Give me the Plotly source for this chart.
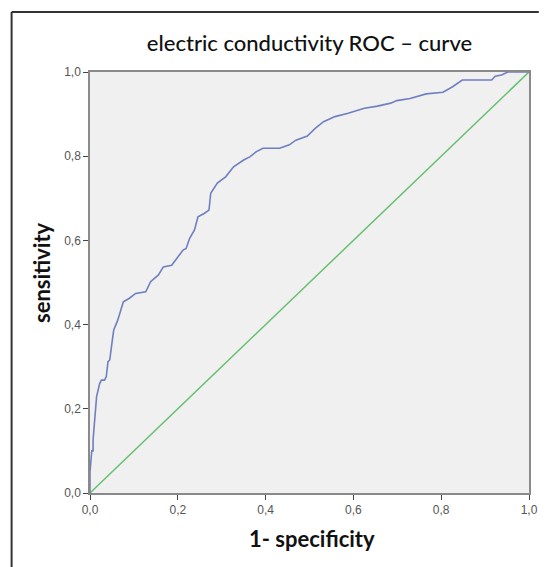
import plotly.graph_objects as go

# ROC curve (1 - specificity, sensitivity)
fpr = [0.0, 0.0, 0.004, 0.007, 0.007, 0.011, 0.015, 0.022, 0.026, 0.033, 0.037, 0.041, 0.045,
       0.050, 0.054, 0.063, 0.076, 0.089, 0.104, 0.127, 0.138, 0.156, 0.167, 0.186, 0.200,
       0.212, 0.219, 0.227, 0.238, 0.246, 0.260, 0.271, 0.275, 0.290, 0.309, 0.327, 0.350,
       0.365, 0.379, 0.394, 0.432, 0.454, 0.469, 0.495, 0.513, 0.532, 0.558, 0.588, 0.625,
       0.655, 0.685, 0.699, 0.729, 0.766, 0.804, 0.826, 0.848, 0.915, 0.923, 0.9375, 0.952, 1.0]
tpr = [0.0, 0.05, 0.10, 0.10, 0.126, 0.18, 0.229, 0.26, 0.268, 0.268, 0.276, 0.312, 0.316,
       0.356, 0.387, 0.41, 0.454, 0.462, 0.474, 0.478, 0.502, 0.518, 0.537, 0.541, 0.561,
       0.577, 0.581, 0.605, 0.625, 0.656, 0.664, 0.672, 0.712, 0.736, 0.751, 0.775, 0.791,
       0.799, 0.811, 0.819, 0.819, 0.827, 0.838, 0.848, 0.866, 0.882, 0.894, 0.902, 0.914,
       0.919, 0.926, 0.932, 0.937, 0.948, 0.952, 0.965, 0.981, 0.981, 0.990, 0.993, 1.0, 1.0]

# reference (chance) line
ref_x = [0.0, 1.0]
ref_y = [0.0, 1.0]

tick_vals = [0.0, 0.2, 0.4, 0.6, 0.8, 1.0]
tick_text = ["0,0", "0,2", "0,4", "0,6", "0,8", "1,0"]

W, H = 548, 567
L, R, T, B = 90, 10, 72, 74
pw, ph = W - L - R, H - T - B


def px_x(page_x):
    return (page_x - L) / pw


def px_y(page_y):
    return (H - B - page_y) / ph


fig = go.Figure()
fig.add_trace(go.Scatter(x=ref_x, y=ref_y, mode="lines",
                         line=dict(color="#66c06e", width=1.5), showlegend=False))
fig.add_trace(go.Scatter(x=fpr, y=tpr, mode="lines",
                         line=dict(color="#6f7fc0", width=1.6), showlegend=False))

axis_common = dict(range=[0, 1], tickvals=tick_vals, ticktext=tick_text,
                   showgrid=False, zeroline=False, showline=True, mirror=True,
                   linecolor="#8a8a8a", linewidth=1.5, ticks="outside", ticklen=5,
                   tickcolor="#444", tickwidth=1.2,
                   tickfont=dict(family="Arial, Liberation Sans", size=12, color="#555"))

frame = dict(color="#333", width=2)

fig.update_layout(
    width=W, height=H,
    margin=dict(l=L, r=R, t=T, b=B),
    paper_bgcolor="white", plot_bgcolor="#f0f0f0",
    xaxis=axis_common, yaxis=axis_common,
    title=dict(text="electric conductivity ROC – curve", x=0.5, xanchor="center",
               xref="paper", y=1 - 43 / H, yref="container", yanchor="middle",
               font=dict(family="Lato, Open Sans", size=22, color="#111", weight=500)),
    annotations=[
        dict(text="<b>sensitivity</b>", xref="paper", yref="paper",
             x=px_x(40), y=px_y(273), textangle=-90, showarrow=False,
             xanchor="center", yanchor="middle",
             font=dict(family="Lato, Open Sans", size=22, color="#111")),
        dict(text="<b>1- specificity</b>", xref="paper", yref="paper",
             x=px_x(317), y=px_y(538), showarrow=False,
             xanchor="center", yanchor="middle",
             font=dict(family="Lato, Open Sans", size=22, color="#111")),
    ],
    shapes=[
        dict(type="line", xref="paper", yref="paper",
             x0=px_x(10), x1=px_x(10), y0=px_y(567), y1=px_y(12), line=frame),
        dict(type="line", xref="paper", yref="paper",
             x0=px_x(10), x1=px_x(548), y0=px_y(12), y1=px_y(12), line=frame),
    ],
)

post_js = """
document.body.style.margin = '0';
document.documentElement.style.overflow = 'hidden';
document.body.style.overflow = 'hidden';
"""

fig.write_html("out.html", config={"displayModeBar": False}, post_script=post_js)
